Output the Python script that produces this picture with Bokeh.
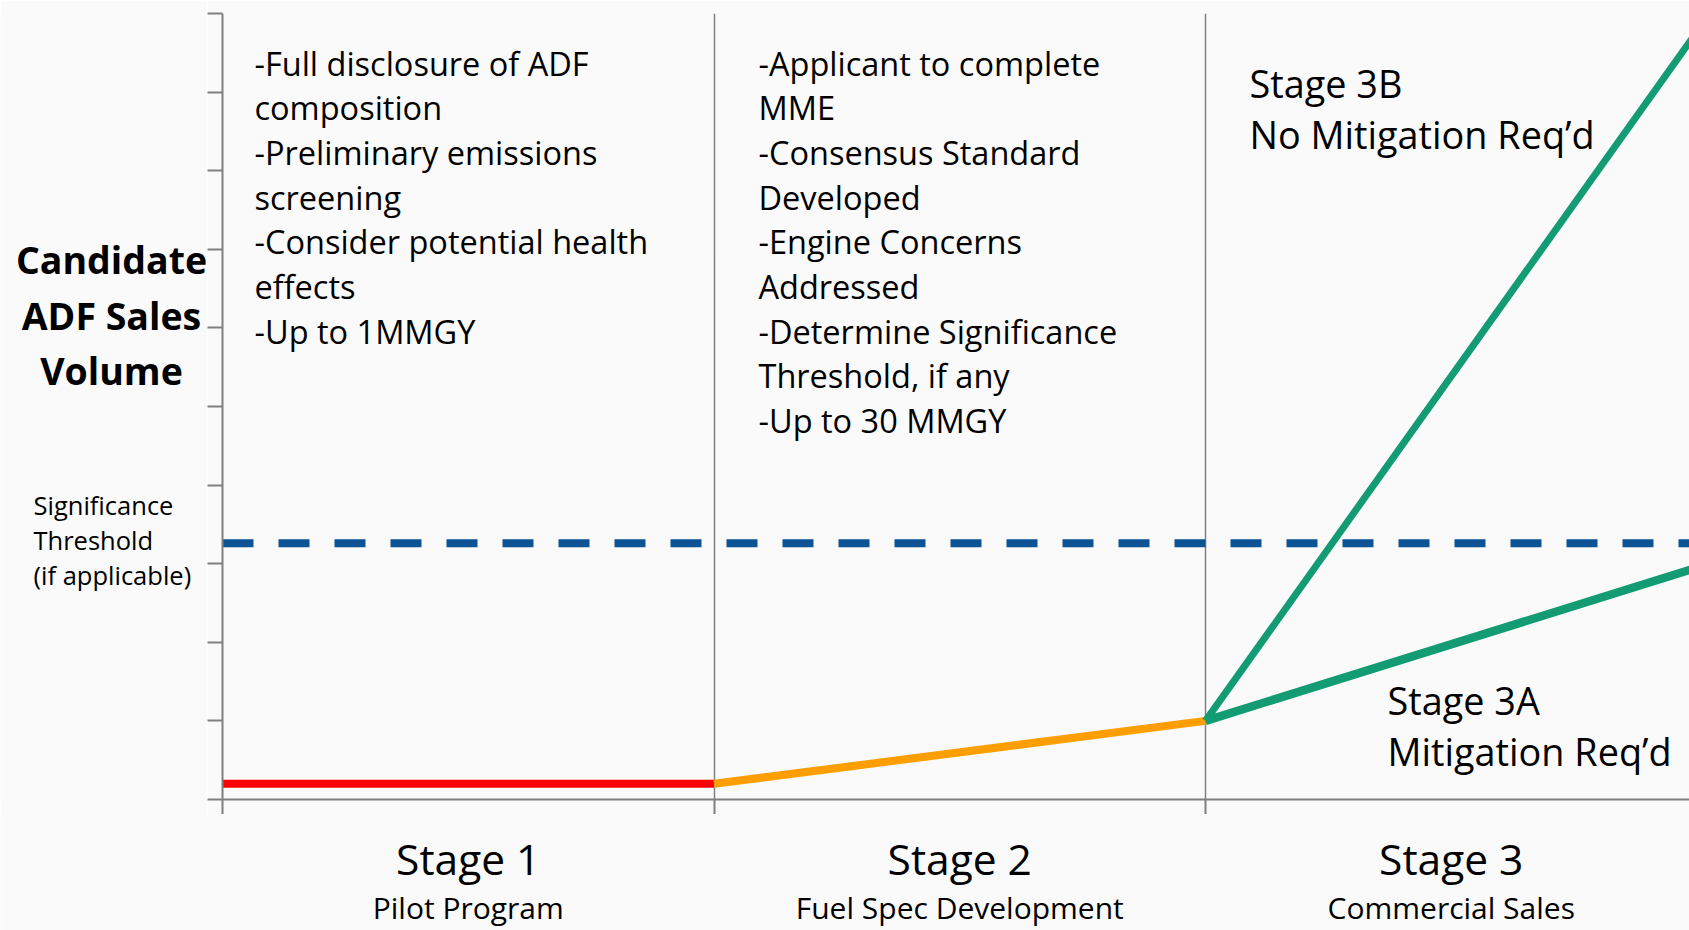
from bokeh.plotting import figure
from bokeh.models import FixedTicker, Range1d
from bokeh.layouts import row, column
from bokeh.core.properties import value
from bokeh.embed import file_html
from bokeh.resources import INLINE

# ---- data ----
stage_x = [0, 1, 2, 3]
stage1_y = [0.2, 0.2]          # Pilot program volume
stage2_y = [0.2, 1.0]          # Fuel spec development
stage3b_y = [1.0, 9.77]        # No mitigation req'd
stage3a_y = [1.0, 2.95]        # Mitigation req'd
threshold = 3.26               # Significance threshold

stage_names = ["Stage 1", "Stage 2", "Stage 3"]
stage_subs = ["Pilot Program", "Fuel Spec Development", "Commercial Sales"]
stage1_notes = ["-Full disclosure of ADF", "composition", "-Preliminary emissions",
                "screening", "-Consider potential health", "effects", "-Up to 1MMGY"]
stage2_notes = ["-Applicant to complete", "MME", "-Consensus Standard", "Developed",
                "-Engine Concerns", "Addressed", "-Determine Significance",
                "Threshold, if any", "-Up to 30 MMGY"]
stage3b_notes = ["Stage 3B", "No Mitigation Req\u2019d"]
stage3a_notes = ["Stage 3A", "Mitigation Req\u2019d"]
ylabel_lines = ["Candidate", "ADF Sales", "Volume"]
threshold_lines = ["Significance", "Threshold", "(if applicable)"]

FONT = "Open Sans"
BG = "#fafafa"
GRAY = "#7f7f7f"

# ---- geometry (page pixels) ----
W, H = 1689, 930
FRAME_L, FRAME_T, FRAME_B = 222, 13, 799
TICK = 15
XU = 491.5                      # px per stage
YU = (FRAME_B - FRAME_T) / 10   # px per y unit
X_END = (W - FRAME_L) / XU

LEFT_W = FRAME_L - TICK
MAIN_H = FRAME_B + TICK
BOT_H = H - MAIN_H

# ---- main chart ----
p = figure(width=W - LEFT_W, height=MAIN_H, output_backend="svg", toolbar_location=None,
           x_range=Range1d(0, X_END), y_range=Range1d(0, 10),
           min_border_left=TICK, min_border_right=0, min_border_top=FRAME_T,
           min_border_bottom=TICK)
p.background_fill_color = BG
p.border_fill_color = BG
p.outline_line_color = None
p.ygrid.grid_line_color = None
p.xgrid.ticker = FixedTicker(ticks=[1, 2])
p.xgrid.grid_line_color = "#808080"
p.xgrid.grid_line_width = 1.5

for ax, ticks in ((p.xaxis, [0, 1, 2, 3]), (p.yaxis, list(range(11)))):
    ax.ticker = FixedTicker(ticks=ticks)
    ax.major_label_overrides = {t: "" for t in ticks}
    ax.major_label_text_font_size = "0px"
    ax.major_label_standoff = 0
    ax.axis_line_color = GRAY
    ax.axis_line_width = 2
    ax.major_tick_line_color = GRAY
    ax.major_tick_line_width = 2
    ax.major_tick_out = TICK
    ax.major_tick_in = 0
    ax.minor_tick_line_color = None

p.line([0, 3], [threshold, threshold], line_color="#0b5394", line_width=8, line_dash="31 25")
p.line(stage_x[0:2], stage1_y, line_color="#ff0000", line_width=8)
p.line(stage_x[1:3], stage2_y, line_color="#ff9e00", line_width=8)
p.line(stage_x[2:4], stage3b_y, line_color="#139c73", line_width=7)
p.line(stage_x[2:4], stage3a_y, line_color="#139c73", line_width=8.5)


def px2x(px):
    return (px - FRAME_L) / XU


def py2y(py):
    return (FRAME_B - py) / YU


def note_block(fig, lines, x, ys, size, align="left", bold=False):
    fig.text(x=[x] * len(lines), y=ys, text=lines,
             text_font=value(FONT), text_font_size=f"{size}px",
             text_font_style="bold" if bold else "normal",
             text_align=align, text_baseline="middle", text_color="#000000")


def rows(y0, dy, n):
    return [y0 + i * dy for i in range(n)]


note_block(p, stage1_notes, px2x(254), [py2y(v) for v in rows(62.5, 44.7, len(stage1_notes))], 32.5)
note_block(p, stage2_notes, px2x(758), [py2y(v) for v in rows(62.5, 44.7, len(stage2_notes))], 32.5)
note_block(p, stage3b_notes, px2x(1249), [py2y(v) for v in rows(83, 50.6, 2)], 37.8)
note_block(p, stage3a_notes, px2x(1387), [py2y(v) for v in rows(700, 50.6, 2)], 37.8)

# ---- left margin text (page-pixel coordinates) ----
pl = figure(width=LEFT_W, height=MAIN_H, output_backend="svg", toolbar_location=None,
            x_range=Range1d(0, LEFT_W), y_range=Range1d(MAIN_H, 0),
            x_axis_type=None, y_axis_type=None, min_border=0)
pl.background_fill_color = BG
pl.border_fill_color = BG
pl.outline_line_color = None
pl.grid.visible = False
note_block(pl, ylabel_lines, 111, rows(255, 57.6, 3), 37.5, align="center", bold=True)
note_block(pl, threshold_lines, 33, rows(509, 36.5, 3), 25.5)

# ---- bottom stage labels (same x scale as chart) ----
pb = figure(width=W, height=BOT_H, output_backend="svg", toolbar_location=None,
            x_range=Range1d(-FRAME_L / XU, X_END), y_range=Range1d(H, MAIN_H),
            x_axis_type=None, y_axis_type=None, min_border=0)
pb.background_fill_color = BG
pb.border_fill_color = BG
pb.outline_line_color = None
pb.grid.visible = False
mid = [s + 0.5 for s in stage_x[:3]]
pb.text(x=mid, y=[858] * 3, text=stage_names, text_font=value(FONT), text_font_size="42.5px",
        text_align="center", text_baseline="middle", text_color="#000000")
pb.text(x=mid, y=[907] * 3, text=stage_subs, text_font=value(FONT), text_font_size="30px",
        text_align="center", text_baseline="middle", text_color="#000000")

layout = column(row(pl, p, spacing=0), pb, spacing=0)
open("out.html", "w").write(file_html(layout, INLINE))
